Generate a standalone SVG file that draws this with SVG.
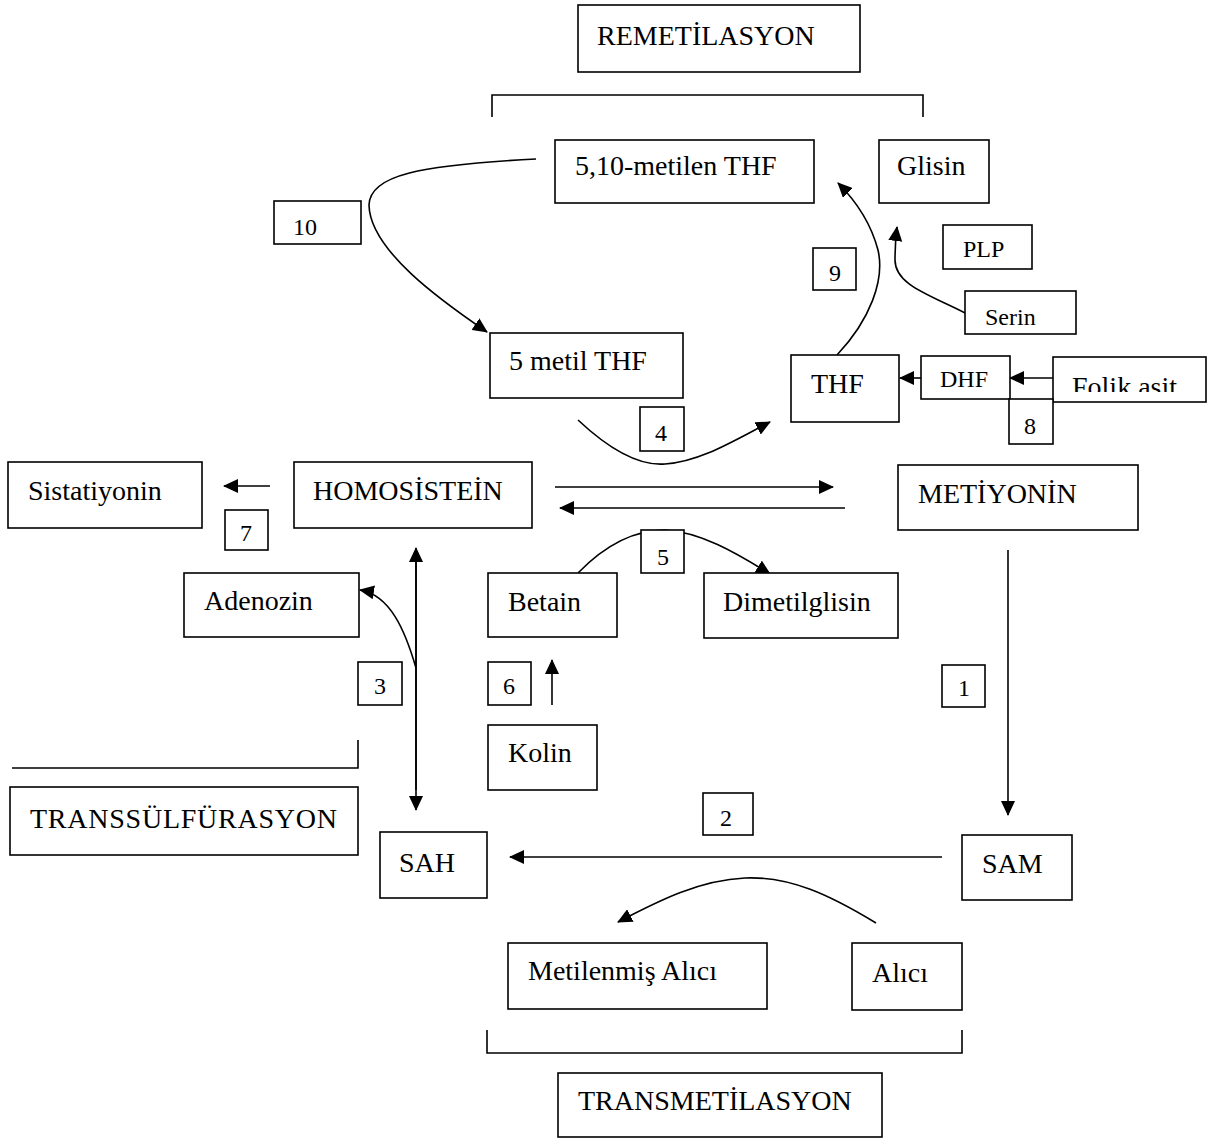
<svg xmlns="http://www.w3.org/2000/svg" width="1217" height="1141" viewBox="0 0 1217 1141">
<style>
.b{fill:#fff;stroke:#000;stroke-width:1.6}
.t{font-family:"Liberation Serif","Times New Roman",serif;font-size:28px;fill:#000}
.s{font-family:"Liberation Serif","Times New Roman",serif;font-size:24px;fill:#000}
.c{fill:none;stroke:#000;stroke-width:1.6}
.a{fill:none;stroke:#000;stroke-width:1.6;marker-end:url(#ah)}
</style>
<defs>
<marker id="ah" viewBox="0 0 15 14" refX="14" refY="7" markerWidth="15" markerHeight="14" markerUnits="userSpaceOnUse" orient="auto">
<path d="M0,0 L15,7 L0,14 Z" fill="#000"/>
</marker>
<clipPath id="fc"><rect x="1053" y="357" width="154" height="35"/></clipPath>
</defs>
<rect width="1217" height="1141" fill="#fff"/>

<g id="connectors">
<path class="c" d="M492,117 V95 H923 V117"/>
<path class="c" d="M12,768 H358 V740"/>
<path class="c" d="M487,1030 V1053 H962 V1030"/>
<path class="a" d="M536,159 C420,165 370,175 369,205 C370,250 440,300 487,332"/>
<path class="a" d="M837,355 C870,320 885,280 878,250 C870,220 855,200 838,183"/>
<path class="a" d="M965,313 C930,295 895,285 895,260 C895,245 896,235 897,227"/>
<path class="a" d="M1053,378 H1010"/>
<path class="a" d="M921,378 H900"/>
<path class="a" d="M578,420 C610,450 640,466 665,464 C700,462 735,440 770,422"/>
<path class="a" d="M270,486 H224"/>
<path class="a" d="M555,487 H833"/>
<path class="a" d="M845,508 H560"/>
<path class="a" d="M578,573 C610,540 640,530 665,530 C700,532 735,552 770,574"/>
<path class="a" d="M416,790 V548"/>
<path class="a" d="M416,560 V810"/>
<path class="a" d="M416,668 C405,630 390,595 360,590"/>
<path class="a" d="M552,705 V660"/>
<path class="a" d="M1008,550 V815"/>
<path class="a" d="M942,857 H510"/>
<path class="a" d="M876,923 C830,895 790,876 745,878 C700,880 660,900 618,922"/>
</g>

<g id="remetilasyon"><rect class="b" x="578" y="5" width="282" height="67"/><text class="t" x="597" y="45">REMETİLASYON</text></g>
<g id="metilenTHF"><rect class="b" x="555" y="140" width="259" height="63"/><text class="t" x="575" y="175">5,10-metilen THF</text></g>
<g id="glisin"><rect class="b" x="879" y="140" width="110" height="63"/><text class="t" x="897" y="175">Glisin</text></g>
<g id="n10"><rect class="b" x="274" y="201" width="87" height="43"/><text class="s" x="293" y="235">10</text></g>
<g id="n9"><rect class="b" x="813" y="248" width="43" height="42"/><text class="s" x="829" y="281">9</text></g>
<g id="plp"><rect class="b" x="943" y="225" width="89" height="44"/><text class="s" x="963" y="257">PLP</text></g>
<g id="serin"><rect class="b" x="965" y="291" width="111" height="43"/><text class="s" x="985" y="325">Serin</text></g>
<g id="metilTHF"><rect class="b" x="490" y="333" width="193" height="65"/><text class="t" x="509" y="370">5 metil THF</text></g>
<g id="thf"><rect class="b" x="791" y="355" width="108" height="67"/><text class="t" x="811" y="393">THF</text></g>
<g id="dhf"><rect class="b" x="921" y="356" width="89" height="43"/><text class="s" x="940" y="387">DHF</text></g>
<g id="folik"><rect class="b" x="1053" y="357" width="153" height="45"/><text class="t" x="1072" y="396" clip-path="url(#fc)">Folik asit</text></g>
<g id="n8"><rect class="b" x="1009" y="399" width="44" height="45"/><text class="s" x="1024" y="434">8</text></g>
<g id="n4"><rect class="b" x="640" y="407" width="44" height="44"/><text class="s" x="655" y="441">4</text></g>
<g id="sistatiyonin"><rect class="b" x="8" y="462" width="194" height="66"/><text class="t" x="28" y="500">Sistatiyonin</text></g>
<g id="n7"><rect class="b" x="225" y="510" width="43" height="40"/><text class="s" x="240" y="541">7</text></g>
<g id="homosistein"><rect class="b" x="294" y="462" width="238" height="66"/><text class="t" x="313" y="500">HOMOSİSTEİN</text></g>
<g id="metiyonin"><rect class="b" x="898" y="465" width="240" height="65"/><text class="t" x="918" y="503">METİYONİN</text></g>
<g id="n5"><rect class="b" x="641" y="530" width="43" height="43"/><text class="s" x="657" y="565">5</text></g>
<g id="adenozin"><rect class="b" x="184" y="573" width="175" height="64"/><text class="t" x="204" y="610">Adenozin</text></g>
<g id="betain"><rect class="b" x="488" y="573" width="129" height="64"/><text class="t" x="508" y="611">Betain</text></g>
<g id="dimetilglisin"><rect class="b" x="704" y="573" width="194" height="65"/><text class="t" x="723" y="611">Dimetilglisin</text></g>
<g id="n3"><rect class="b" x="358" y="662" width="44" height="43"/><text class="s" x="374" y="694">3</text></g>
<g id="n6"><rect class="b" x="488" y="662" width="43" height="43"/><text class="s" x="503" y="694">6</text></g>
<g id="n1"><rect class="b" x="942" y="665" width="43" height="42"/><text class="s" x="958" y="696">1</text></g>
<g id="kolin"><rect class="b" x="488" y="725" width="109" height="65"/><text class="t" x="508" y="762">Kolin</text></g>
<g id="transsulfurasyon"><rect class="b" x="10" y="787" width="348" height="68"/><text class="t" x="30" y="828" textLength="307">TRANSSÜLFÜRASYON</text></g>
<g id="n2"><rect class="b" x="703" y="793" width="50" height="42"/><text class="s" x="720" y="826">2</text></g>
<g id="sah"><rect class="b" x="380" y="832" width="107" height="66"/><text class="t" x="399" y="872">SAH</text></g>
<g id="sam"><rect class="b" x="962" y="835" width="110" height="65"/><text class="t" x="982" y="873">SAM</text></g>
<g id="metilenmis"><rect class="b" x="508" y="943" width="259" height="66"/><text class="t" x="528" y="980">Metilenmiş Alıcı</text></g>
<g id="alici"><rect class="b" x="852" y="943" width="110" height="67"/><text class="t" x="872" y="982">Alıcı</text></g>
<g id="transmetilasyon"><rect class="b" x="558" y="1073" width="324" height="64"/><text class="t" x="578" y="1110">TRANSMETİLASYON</text></g>
</svg>
